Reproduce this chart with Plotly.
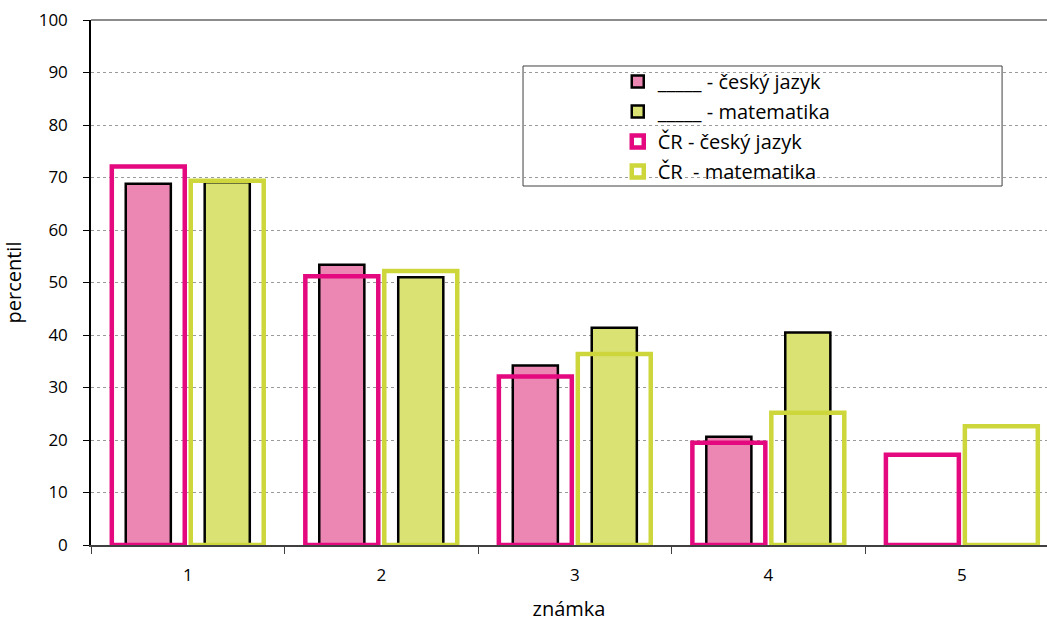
import plotly.graph_objects as go

categories = ["1", "2", "3", "4", "5"]
school_cj = [68.8, 53.4, 34.2, 20.6, None]
school_mat = [69.1, 51.0, 41.4, 40.5, None]
cr_cj = [72.1, 51.2, 32.1, 19.5, 17.2]
cr_mat = [69.4, 52.2, 36.4, 25.2, 22.6]

names = ["_____ - český jazyk", "_____ - matematika", "ČR - český jazyk", "ČR \u00a0- matematika"]

PINK = "#EC86B3"
GREEN = "#DAE274"
MAGENTA = "#E4097F"
YG = "#CDD73C"

sep = 0.204
w_wide = 0.377
w_narrow = 0.233

fig = go.Figure()
fig.add_trace(go.Bar(x=categories, y=school_cj, name=names[0], legendgroup="a",
                     width=w_narrow, offset=-sep - w_narrow / 2,
                     marker=dict(color=PINK, line=dict(color="black", width=2.5))))
fig.add_trace(go.Bar(x=categories, y=school_mat, name=names[1], legendgroup="b",
                     width=w_narrow, offset=sep - w_narrow / 2,
                     marker=dict(color=GREEN, line=dict(color="black", width=2.5))))
fig.add_trace(go.Bar(x=categories, y=cr_cj, name=names[2], legendgroup="c",
                     width=w_wide, offset=-sep - w_wide / 2,
                     marker=dict(color="rgba(255,255,255,0)", line=dict(color=MAGENTA, width=4.5))))
fig.add_trace(go.Bar(x=categories, y=cr_mat, name=names[3], legendgroup="d",
                     width=w_wide, offset=sep - w_wide / 2,
                     marker=dict(color="rgba(255,255,255,0)", line=dict(color=YG, width=4.5))))

# legend frame
fig.add_shape(type="rect", xref="paper", yref="paper", x0=0.4519, x1=0.953, y0=0.6838, y1=0.9124,
              line=dict(color="#404040", width=1), fillcolor="rgba(0,0,0,0)", layer="below")
# top border line
fig.add_shape(type="line", xref="paper", yref="paper", x0=0, x1=1, y0=1, y1=1,
              line=dict(color="#8c8c8c", width=2))

fig.update_layout(
    width=1047, height=622,
    margin=dict(l=91, r=0, t=20, b=77),
    paper_bgcolor="white", plot_bgcolor="white",
    barmode="overlay",
    font=dict(family="Open Sans", size=17, color="black"),
    showlegend=True,
    legend=dict(x=0.551, y=0.92, xanchor="left", yanchor="top",
                traceorder="grouped", tracegroupgap=1,
                font=dict(size=20), bgcolor="rgba(0,0,0,0)", borderwidth=0),
    xaxis=dict(type="category", range=[-0.5, 4.44], showline=True, linecolor="#404040", linewidth=1.5,
               ticks="outside", tickson="boundaries", ticklen=7, tickcolor="#404040",
               ticklabelstandoff=14, automargin=False,
               showgrid=False, title=dict(text="známka", standoff=26),
               tickfont=dict(size=17)),
    yaxis=dict(range=[0, 100], tickvals=list(range(0, 101, 10)), showline=True, linecolor="black",
               linewidth=1.5, ticks="outside", ticklen=6, tickcolor="black",
               ticklabelstandoff=12, automargin=False,
               showgrid=True, gridcolor="#9a9a9a", griddash="dot", gridwidth=1,
               zeroline=False, title=dict(text="percentil", standoff=12),
               tickfont=dict(size=17)),
)

fig.write_html("out.html")
